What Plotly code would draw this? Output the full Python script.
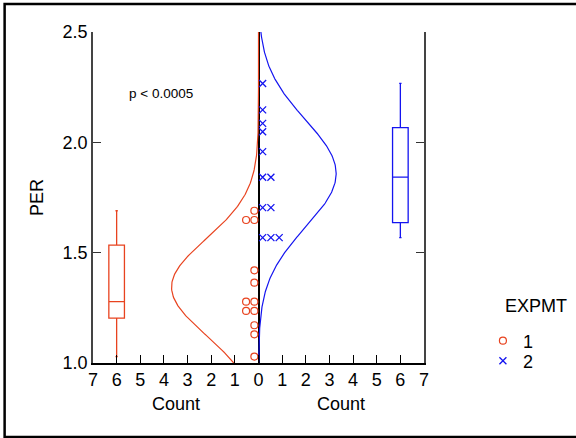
import numpy as np
import plotly.graph_objects as go

# ---- data ----
group_labels = ["1", "2"]
per_group1 = [1.69, 1.648, 1.648, 1.42, 1.364, 1.278, 1.278, 1.236, 1.236, 1.171, 1.13, 1.029]
per_group2 = [2.267, 2.147, 2.086, 2.048, 1.958, 1.842, 1.842, 1.704, 1.704, 1.568, 1.568, 1.568]
count_ticks = [-7, -6, -5, -4, -3, -2, -1, 0, 1, 2, 3, 4, 5, 6, 7]
count_ticktext = ["7", "6", "5", "4", "3", "2", "1", "0", "1", "2", "3", "4", "5", "6", "7"]
per_ticks = [1.0, 1.5, 2.0, 2.5]
p_text = "p < 0.0005"

RED = "#E8431F"
BLUE = "#1414F0"
FONT = "Liberation Sans, Arial, sans-serif"
BIN = 1.0 / 6.0
DOT_STEP = 0.35
BOX_POS = 6


def dot_offsets(vals, sign):
    seen = {}
    xs = []
    for v in vals:
        k = seen.get(v, 0)
        seen[v] = k + 1
        xs.append(sign * (k + 0.5) * DOT_STEP)
    return xs


def normal_counts(vals, grid):
    a = np.asarray(vals)
    m, s = a.mean(), a.std(ddof=1)
    pdf = np.exp(-0.5 * ((grid - m) / s) ** 2) / (s * np.sqrt(2 * np.pi))
    return len(a) * BIN * pdf


grid = np.linspace(1.0, 2.5, 301)

fig = go.Figure()

# normal curves
fig.add_trace(go.Scatter(x=-normal_counts(per_group1, grid), y=grid, mode="lines",
                         line=dict(color=RED, width=1.2), showlegend=False, hoverinfo="skip"))
fig.add_trace(go.Scatter(x=normal_counts(per_group2, grid), y=grid, mode="lines",
                         line=dict(color=BLUE, width=1.2), showlegend=False, hoverinfo="skip"))

# box plots
fig.add_trace(go.Box(x=[-BOX_POS] * len(per_group1), y=per_group1, width=0.66,
                     line=dict(color=RED, width=1.3), fillcolor="rgba(0,0,0,0)",
                     boxpoints=False, whiskerwidth=0.15, quartilemethod="exclusive",
                     showlegend=False))
fig.add_trace(go.Box(x=[BOX_POS] * len(per_group2), y=per_group2, width=0.66,
                     line=dict(color=BLUE, width=1.3), fillcolor="rgba(0,0,0,0)",
                     boxpoints=False, whiskerwidth=0.15, quartilemethod="exclusive",
                     showlegend=False))

# dots
fig.add_trace(go.Scatter(x=dot_offsets(per_group1, -1), y=per_group1, mode="markers",
                         name=group_labels[0], legend="legend",
                         marker=dict(symbol="circle-open", size=7, color=RED,
                                     line=dict(color=RED, width=1.2))))
fig.add_trace(go.Scatter(x=dot_offsets(per_group2, 1), y=per_group2, mode="markers",
                         name=group_labels[1], legend="legend2",
                         marker=dict(symbol="x-thin", size=7, color=BLUE,
                                     line=dict(color=BLUE, width=1.3))))

fig.update_layout(
    width=576, height=438,
    margin=dict(l=93, r=152, t=32, b=75),
    paper_bgcolor="white", plot_bgcolor="white",
    font=dict(family=FONT, size=18, color="black"),
    xaxis=dict(range=[-7, 7], tickvals=count_ticks, ticktext=count_ticktext,
               ticks="inside", ticklen=8, tickwidth=1.3, tickcolor="black",
               showline=True, linecolor="black", linewidth=1.5,
               showgrid=False, zeroline=True, zerolinecolor="black", zerolinewidth=2,
               tickfont=dict(size=18), fixedrange=True),
    xaxis2=dict(overlaying="x", side="top", anchor="y", range=[-2.92, 2.92],
                tickvals=[-2, -1, 0, 1, 2], ticks="inside", ticklen=8, tickwidth=1.3,
                tickcolor="black", showticklabels=False, showline=True,
                linecolor="black", linewidth=1.5, showgrid=False, zeroline=False),
    yaxis=dict(range=[1.0, 2.5], tickvals=per_ticks, tickformat=".1f",
               ticks="inside", ticklen=8, tickwidth=1.3, tickcolor="#333",
               showline=True, linecolor="#444", linewidth=1.5, mirror="ticks",
               showgrid=False, zeroline=False,
               title=dict(text="PER", standoff=14, font=dict(size=18)),
               tickfont=dict(size=18)),
    yaxis3=dict(overlaying="y", anchor="free", position=0.5, range=[1.0, 2.5],
                tickvals=[1.5, 2.0], ticks="outside", ticklen=8, tickwidth=1.3,
                tickcolor="black", showticklabels=False, showline=False,
                showgrid=False, zeroline=False),
    yaxis4=dict(overlaying="y", anchor="free", position=0.5, range=[1.0, 2.5],
                tickvals=[1.5, 2.0], ticks="inside", ticklen=8, tickwidth=1.3,
                tickcolor="black", showticklabels=False, showline=False,
                showgrid=False, zeroline=False),
    legend=dict(x=1.178, xanchor="left", y=0.0665, yanchor="middle",
                font=dict(size=18), bgcolor="rgba(0,0,0,0)"),
    legend2=dict(x=1.178, xanchor="left", y=0.006, yanchor="middle",
                 font=dict(size=18), bgcolor="rgba(0,0,0,0)"),
    showlegend=True,
)

# axis titles and annotation
fig.add_annotation(x=-3.5, y=0, yref="paper", text="Count", showarrow=False,
                   yanchor="top", yshift=-29, font=dict(size=18))
fig.add_annotation(x=3.5, y=0, yref="paper", text="Count", showarrow=False,
                   yanchor="top", yshift=-29, font=dict(size=18))
fig.add_annotation(x=-5.56, y=2.22, text=p_text, showarrow=False, xanchor="left",
                   font=dict(size=13.5))
fig.add_annotation(x=1.24, xref="paper", y=0.136, yref="paper", text="EXPMT",
                   showarrow=False, xanchor="left", font=dict(size=18))

# outer frame (open on the right, where it runs off the picture)
fig.add_shape(type="path", xref="paper", yref="paper",
              path="M 1.6 1.0846 L -0.267 1.0846 L -0.267 -0.2236 L 1.6 -0.2236",
              line=dict(color="black", width=2.5), layer="above")

fig.write_html("out.html", config={"displayModeBar": False},
               post_script="document.body.style.margin='0px';"
                           "document.body.style.overflow='hidden';")
